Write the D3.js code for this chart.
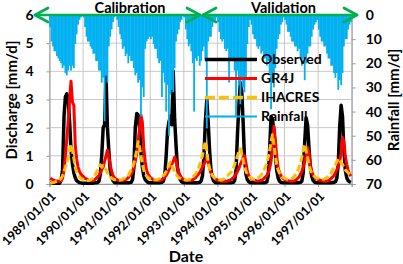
<!DOCTYPE html>
<html>
<head>
<meta charset="utf-8">
<script src="https://cdn.jsdelivr.net/npm/d3@7/dist/d3.min.js"></script>
<style>
  body { margin: 0; background: #fff; }
  text { font-family: Lato, "Open Sans", sans-serif; font-weight: bold; fill: #000; }
</style>
</head>
<body>
<script>
// half-monthly values (8th and 23rd of each month), one row per year 1989..1997
const years = [1989, 1990, 1991, 1992, 1993, 1994, 1995, 1996, 1997];
const tickLabels = ["1989/01/01", "1990/01/01", "1991/01/01", "1992/01/01", "1993/01/01",
                    "1994/01/01", "1995/01/01", "1996/01/01", "1997/01/01"];
const dischargeTicks = [0, 1, 2, 3, 4, 5, 6];
const rainTicks = [0, 10, 20, 30, 40, 50, 60, 70];
const periods = ["Calibration", "Validation"];

const observed = [
  0.03,0.03,0.03,0.03,0.03,0.03,0.03,0.03,0.15,0.5,2.4,3.1,3.2,3.0,2.2,1.2,0.7,0.4,0.22,0.12,0.08,0.05,0.04,0.03,
  0.03,0.03,0.03,0.03,0.03,0.03,0.03,0.03,0.04,0.04,0.05,0.1,0.35,1.0,2.0,2.1,3.8,2.0,1.2,0.5,0.25,0.12,0.06,0.04,
  0.04,0.04,0.04,0.04,0.04,0.04,0.04,0.04,0.04,0.05,0.06,0.15,0.6,2.0,2.5,2.45,2.0,1.1,0.6,0.3,0.15,0.1,0.06,0.04,
  0.04,0.04,0.04,0.04,0.04,0.04,0.04,0.05,0.06,0.1,0.3,1.0,1.9,2.2,2.4,2.1,4.0,2.3,1.4,0.6,0.3,0.15,0.08,0.05,
  0.04,0.04,0.04,0.04,0.04,0.04,0.04,0.04,0.04,0.04,0.05,0.06,0.1,0.3,1.0,2.2,3.0,2.2,1.2,0.5,0.22,0.1,0.06,0.04,
  0.04,0.04,0.04,0.04,0.04,0.04,0.04,0.04,0.04,0.04,0.05,0.06,0.12,0.5,1.8,2.8,3.6,3.3,2.2,0.9,0.35,0.15,0.08,0.05,
  0.04,0.04,0.04,0.04,0.04,0.04,0.04,0.04,0.04,0.04,0.05,0.08,0.3,1.2,2.4,2.3,1.9,1.1,0.5,0.22,0.1,0.06,0.05,0.04,
  0.04,0.04,0.04,0.04,0.04,0.04,0.04,0.04,0.04,0.04,0.05,0.06,0.1,0.4,1.5,2.35,2.1,1.3,0.6,0.28,0.12,0.07,0.05,0.04,
  0.04,0.04,0.04,0.04,0.04,0.04,0.04,0.04,0.04,0.04,0.05,0.06,0.08,0.2,0.7,2.0,2.8,2.4,1.2,0.5,0.22,0.12,0.08,0.06
];

const gr4j = [
  0.2,0.18,0.15,0.13,0.12,0.11,0.1,0.1,0.12,0.2,0.5,1.0,1.6,2.2,3.0,3.65,2.9,2.8,1.4,0.9,0.6,0.45,0.35,0.3,
  0.25,0.2,0.18,0.15,0.13,0.12,0.12,0.13,0.15,0.2,0.25,0.3,0.4,0.5,0.6,0.8,1.0,1.2,1.0,0.7,0.45,0.3,0.22,0.18,
  0.15,0.13,0.12,0.12,0.12,0.13,0.15,0.18,0.22,0.3,0.35,0.45,0.6,0.8,1.1,1.5,2.0,2.45,2.2,1.3,0.8,0.5,0.35,0.28,
  0.22,0.18,0.15,0.13,0.12,0.12,0.12,0.13,0.15,0.2,0.25,0.3,0.4,0.5,0.6,0.7,0.8,0.95,0.85,0.6,0.4,0.3,0.22,0.18,
  0.15,0.13,0.12,0.12,0.12,0.13,0.15,0.18,0.22,0.28,0.35,0.4,0.5,0.6,0.7,0.8,0.9,0.8,0.55,0.4,0.3,0.22,0.18,0.15,
  0.13,0.12,0.11,0.1,0.1,0.1,0.1,0.11,0.13,0.15,0.18,0.22,0.28,0.35,0.45,0.55,0.7,0.8,0.95,1.0,0.75,0.45,0.3,0.22,
  0.18,0.15,0.13,0.12,0.11,0.11,0.12,0.13,0.15,0.2,0.25,0.3,0.4,0.55,0.8,1.3,2.05,1.6,1.0,0.6,0.4,0.3,0.22,0.18,
  0.15,0.13,0.12,0.11,0.1,0.1,0.11,0.12,0.15,0.2,0.25,0.35,0.45,0.6,0.8,1.0,1.3,1.1,0.7,0.45,0.32,0.25,0.2,0.17,
  0.15,0.13,0.12,0.11,0.1,0.1,0.11,0.12,0.15,0.2,0.25,0.3,0.4,0.5,0.6,0.8,1.1,1.65,1.5,1.0,0.7,0.5,0.35,0.28
];

const ihacres = [
  0.02,0.03,0.05,0.06,0.08,0.1,0.12,0.15,0.2,0.3,0.45,0.6,0.75,0.9,1.2,1.4,1.2,0.9,0.6,0.4,0.3,0.25,0.2,0.17,
  0.15,0.13,0.12,0.12,0.13,0.15,0.18,0.2,0.3,0.4,0.5,0.6,0.68,0.6,0.65,0.55,0.5,0.4,0.3,0.25,0.2,0.18,0.15,0.15,
  0.15,0.15,0.14,0.15,0.18,0.2,0.22,0.25,0.3,0.4,0.5,0.6,0.75,0.95,1.2,1.5,1.3,1.0,0.7,0.5,0.35,0.28,0.22,0.2,
  0.18,0.16,0.15,0.15,0.15,0.16,0.18,0.2,0.25,0.3,0.35,0.45,0.55,0.7,0.78,0.65,0.55,0.45,0.35,0.28,0.22,0.2,0.18,0.16,
  0.15,0.14,0.14,0.15,0.17,0.2,0.24,0.3,0.35,0.45,0.55,0.7,0.85,1.0,1.3,1.5,1.2,0.8,0.55,0.4,0.3,0.25,0.2,0.18,
  0.16,0.15,0.14,0.15,0.17,0.2,0.25,0.3,0.35,0.4,0.45,0.55,0.7,0.85,1.0,1.15,1.25,1.1,0.85,0.6,0.45,0.35,0.28,0.22,
  0.2,0.18,0.17,0.18,0.2,0.23,0.27,0.32,0.4,0.5,0.6,0.75,0.95,1.2,1.5,1.75,1.4,1.0,0.7,0.5,0.38,0.3,0.25,0.22,
  0.2,0.18,0.17,0.17,0.18,0.2,0.24,0.3,0.38,0.48,0.6,0.75,0.95,1.2,1.4,1.2,0.95,0.7,0.5,0.4,0.32,0.27,0.23,0.2,
  0.2,0.18,0.17,0.17,0.18,0.2,0.23,0.27,0.33,0.4,0.5,0.6,0.7,0.8,0.9,0.85,0.75,0.7,0.6,0.5,0.45,0.4,0.35,0.3
];

const rainfall = [
  5,11,13,15,15,17,18,19,20,22,21,24,25,23,21,23,21,22,12,8,4,2,1,0,
  1,5,9,11,11,13,14,16,16,19,19,23,23,28,26,44,25,28,13,9,6,3,1,0,
  2,5,8,10,14,13,17,16,20,17,19,19,22,25,24,28,27,42,30,34,14,11,10,9,
  10,9,12,14,14,18,20,19,34,24,28,40,29,50,33,31,32,22,11,8,6,3,2,0,
  1,6,10,13,12,15,20,40,18,19,17,21,19,15,13,19,47,11,9,9,5,3,2,1,
  3,7,10,11,10,14,15,14,28,18,19,18,23,42,23,29,37,27,30,32,27,12,5,2,
  4,8,10,10,13,14,13,16,15,18,18,21,19,24,39,28,30,22,14,10,8,4,3,1,
  2,4,7,7,9,11,11,13,13,15,14,18,21,18,27,20,16,13,13,9,6,4,3,2,
  6,9,11,11,13,13,16,18,18,21,21,24,26,24,31,27,29,24,13,10,10,6,4,3
];

const dates = [];
years.forEach(yr => {
  for (let m = 0; m < 12; m++) {
    dates.push(new Date(yr, m, 8));
    dates.push(new Date(yr, m, 23));
  }
});

const W = 403, H = 264;
const svg = d3.select("body").append("svg").attr("width", W).attr("height", H);

const x = d3.scaleTime()
  .domain([new Date(1989, 0, 1), new Date(1998, 0, 1)])
  .range([49.5, 351.7]);
const y = d3.scaleLinear().domain([0, 6]).range([184, 15]);
const yR = d3.scaleLinear().domain([0, 70]).range([15, 184]);

const yearTicks = years.concat([1998]).map(yr => new Date(yr, 0, 1));

// gridlines
svg.append("g")
  .selectAll("line").data(dischargeTicks).join("line")
  .attr("x1", 49.5).attr("x2", 351.7)
  .attr("y1", d => y(d)).attr("y2", d => y(d))
  .attr("stroke", "#c8c8c8").attr("stroke-width", 1);
svg.append("g")
  .selectAll("line").data(yearTicks).join("line")
  .attr("x1", d => x(d)).attr("x2", d => x(d))
  .attr("y1", 15).attr("y2", 184)
  .attr("stroke", "#c8c8c8").attr("stroke-width", 1);

// axes
const leftAxis = svg.append("g").attr("transform", "translate(49.5,0)")
  .call(d3.axisLeft(y).tickValues(dischargeTicks).tickSize(3).tickPadding(13).tickFormat(d3.format("d")));
const rightAxis = svg.append("g").attr("transform", "translate(351.7,0)")
  .call(d3.axisRight(yR).tickValues(rainTicks).tickSize(4).tickPadding(10).tickFormat(d3.format("d")));
const bottomAxis = svg.append("g").attr("transform", "translate(0,184)")
  .call(d3.axisBottom(x).tickValues(yearTicks).tickSize(3).tickFormat(""));
[leftAxis, rightAxis, bottomAxis].forEach(a => {
  a.select(".domain").attr("stroke", "#9a9a9a");
  a.selectAll(".tick line").attr("stroke", "#9a9a9a");
});
leftAxis.selectAll("text").style("font-size", "14px");
rightAxis.selectAll("text").style("font-size", "14px");

// date labels
svg.append("g").selectAll("text").data(tickLabels).join("text")
  .attr("transform", (d, i) => `translate(${x(yearTicks[i]) + 4},194) rotate(-45)`)
  .attr("text-anchor", "end")
  .attr("dy", "0.35em")
  .style("font-size", "12.5px")
  .text(d => d);

// discharge series
const line = d3.line()
  .x((d, i) => x(dates[i]))
  .y(d => y(d));

svg.append("path").datum(observed)
  .attr("fill", "none").attr("stroke", "#000").attr("stroke-width", 3.5)
  .attr("stroke-linejoin", "round").attr("d", line);
svg.append("path").datum(gr4j)
  .attr("fill", "none").attr("stroke", "#ff0000").attr("stroke-width", 3)
  .attr("stroke-linejoin", "round").attr("d", line);
svg.append("path").datum(ihacres)
  .attr("fill", "none").attr("stroke", "#ffc000").attr("stroke-width", 3)
  .attr("stroke-dasharray", "7,3").attr("stroke-linejoin", "round").attr("d", line);

// rainfall hanging from top (secondary inverted axis)
svg.append("g").selectAll("rect").data(rainfall).join("rect")
  .attr("x", (d, i) => x(dates[i]) - 0.9)
  .attr("width", 1.8)
  .attr("y", yR(0))
  .attr("height", d => yR(d) - yR(0))
  .attr("fill", "#00b0f0");

// legend
const legend = [
  { name: "Observed", color: "#000", w: 3.5, dash: null, y: 59.5 },
  { name: "GR4J", color: "#ff0000", w: 3, dash: null, y: 78.5 },
  { name: "IHACRES", color: "#ffc000", w: 3.5, dash: "10,4", y: 97.5 },
  { name: "Rainfall", color: "#00b0f0", w: 2, dash: null, y: 116.5 }
];
const lg = svg.append("g");
lg.selectAll("line").data(legend).join("line")
  .attr("x1", 205).attr("x2", 257)
  .attr("y1", d => d.y).attr("y2", d => d.y)
  .attr("stroke", d => d.color).attr("stroke-width", d => d.w)
  .attr("stroke-dasharray", d => d.dash);
lg.selectAll("text").data(legend).join("text")
  .attr("x", 261).attr("y", d => d.y).attr("dy", "0.35em")
  .style("font-size", "14px")
  .text(d => d.name);

// calibration / validation arrows
const green = "#00b050";
const arrows = [
  { x1: 35, x2: 200 },
  { x1: 203, x2: 357 }
];
const ag = svg.append("g").attr("fill", "none").attr("stroke", green)
  .attr("stroke-width", 2.7).attr("stroke-linecap", "round").attr("stroke-linejoin", "round");
arrows.forEach(a => {
  ag.append("line").attr("x1", a.x1).attr("x2", a.x2).attr("y1", 15).attr("y2", 15);
  ag.append("path").attr("d", `M${a.x1 + 13},8 L${a.x1},15 L${a.x1 + 13},22`);
  ag.append("path").attr("d", `M${a.x2 - 13},8 L${a.x2},15 L${a.x2 - 13},22`);
});
svg.append("g").selectAll("text").data(periods).join("text")
  .attr("x", (d, i) => [130, 283.5][i]).attr("y", 13)
  .attr("text-anchor", "middle")
  .style("font-size", "14.5px")
  .text(d => d);

// axis titles
svg.append("text")
  .attr("transform", "translate(12,100) rotate(-90)")
  .attr("text-anchor", "middle").attr("dy", "0.35em")
  .style("font-size", "15px")
  .text("Discharge [mm/d]");
svg.append("text")
  .attr("transform", "translate(394,100) rotate(-90)")
  .attr("text-anchor", "middle").attr("dy", "0.35em")
  .style("font-size", "15px")
  .text("Rainfall [mm/d]");
svg.append("text")
  .attr("x", 186).attr("y", 262)
  .attr("text-anchor", "middle")
  .style("font-size", "16px")
  .text("Date");
</script>
</body>
</html>
